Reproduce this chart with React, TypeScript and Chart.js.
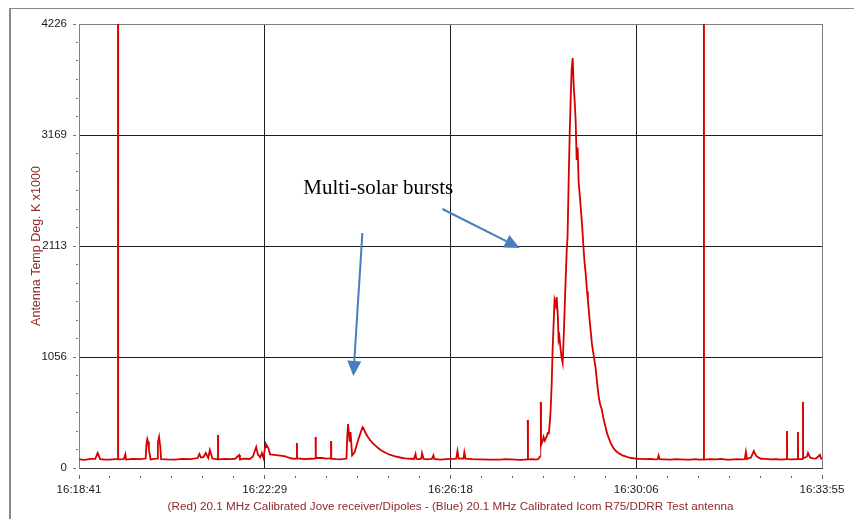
import { useEffect, useRef } from 'react';
import { Chart, registerables } from 'chart.js';

Chart.register(...registerables);

// seconds elapsed since 16:18:41 (axis runs to 16:33:55)
const X_MAX = 914;
const Y_MAX = 4226;
const X_TICK_LABELS = ['16:18:41', '16:22:29', '16:26:18', '16:30:06', '16:33:55'];
const Y_TICK_LABELS = ['0', '1056', '2113', '3169', '4226'];
const MINOR_PER_MAJOR = 6;

const TIME_S = [
  0, 7, 14, 20, 23, 26, 32, 38, 45, 48, 48, 48.2, 55, 57, 58, 66, 75, 82, 83, 84, 85, 86, 88, 92, 96, 97, 98.5, 100, 101,
  108, 118, 127, 137, 146, 148, 150, 153, 156, 159, 161, 164, 171, 171, 171.2, 180, 186, 192, 197, 198, 204, 210, 214,
  218, 220, 223, 225, 227, 229, 230, 232, 233, 235, 240, 245, 250, 254, 257, 260, 264, 268, 268, 268.3, 278, 284, 291,
  291, 291.3, 299, 304, 310, 310, 310.3, 316, 321, 326, 329, 330, 331, 333, 334, 336, 339, 342, 344, 347, 349, 350, 352,
  355, 358, 361, 365, 368, 371, 377, 383, 389, 395, 401, 408, 412, 414, 415, 418, 421, 422, 424, 428, 434, 436, 437,
  444, 452, 458, 464, 465.6, 467, 473, 474, 475.5, 484, 494, 506, 518, 525, 531, 537, 543, 552, 552, 552.3, 558, 562,
  565, 568, 568, 568.3, 570.5, 571.5, 573, 574, 575.5, 576.5, 578, 579, 580, 581.5, 582.6, 584, 585, 586.5, 587.6, 589,
  590, 591, 592.5, 593.7, 595, 596, 597.4, 598.7, 600, 601, 602.3, 603.6, 604.8, 606, 607.3, 608.5, 609.7, 611, 612.2,
  613.4, 614.7, 616, 617, 619, 620.8, 622, 623.3, 625, 626, 628, 629.5, 631, 633, 635.5, 637.5, 639.3, 641, 643, 645.5,
  648, 650, 652, 654, 656.6, 659, 661.5, 664, 666.4, 669, 672.6, 676, 679, 683, 687.4, 692, 697, 703, 708, 711.9, 713,
  714.4, 720, 728, 734, 740, 746, 752.6, 758, 763, 768.6, 768.6, 768.8, 777, 783.4, 790, 796, 802, 810, 816, 819, 820.4,
  821.6, 826.6, 830.2, 832, 834, 838.8, 845, 851, 858, 863, 870.9, 870.9, 871.1, 877, 884.4, 884.4, 884.6, 890.6, 890.6,
  890.8, 895.5, 896.8, 899.3, 903, 906.6, 911.5, 912.8, 914,
];

const TEMP_K = [
  82, 78, 86, 88, 143, 85, 80, 80, 84, 86, 5200, 82, 84, 130, 80, 86, 84, 90, 230, 276, 250, 180, 82, 86, 90, 240, 295,
  200, 85, 82, 80, 86, 84, 95, 133, 100, 104, 143, 95, 171, 90, 82, 314, 82, 86, 85, 88, 124, 82, 90, 86, 110, 200, 130,
  100, 143, 95, 200, 228, 200, 190, 130, 125, 120, 115, 110, 100, 95, 88, 90, 238, 92, 84, 88, 90, 295, 95, 96, 90, 92,
  257, 88, 84, 82, 86, 90, 300, 419, 250, 343, 120, 150, 230, 280, 350, 390, 380, 340, 300, 266, 240, 210, 190, 171,
  145, 124, 110, 100, 92, 88, 86, 133, 86, 84, 88, 140, 86, 82, 86, 120, 86, 80, 84, 86, 88, 162, 90, 90, 150, 88, 84,
  82, 80, 80, 84, 82, 80, 78, 82, 457, 82, 84, 80, 85, 120, 628, 219, 260, 295, 260, 280, 300, 333, 330, 420, 523, 800,
  1123, 1400, 1599, 1550, 1627, 1450, 1218, 1250, 1123, 1050, 999, 1200, 1504, 1800, 2075, 2200, 2713, 3169, 3503, 3788,
  3902, 3650, 3500, 3300, 2931, 3050, 2713, 2600, 2500, 2300, 2075, 1950, 1850, 1680, 1599, 1420, 1300, 1180, 1080, 950,
  800, 680, 610, 560, 460, 380, 320, 280, 240, 200, 175, 155, 140, 130, 118, 110, 100, 95, 92, 88, 86, 84, 86, 82, 84,
  120, 84, 82, 80, 84, 82, 80, 80, 84, 80, 82, 5200, 80, 84, 82, 86, 80, 80, 84, 82, 84, 152, 86, 100, 162, 130, 110, 88,
  86, 82, 84, 80, 84, 352, 84, 82, 84, 343, 84, 84, 628, 90, 110, 143, 100, 92, 90, 124, 90, 88,
];

const NOTE_TEXT = 'Multi-solar bursts';
const NOTE_AT = [276, 2608];
const ARROWS = [
  [348.6, 2237, 337.5, 876],
  [447.1, 2465, 542, 2094],
];

const notesPlugin = {
  id: 'notes',
  afterDatasetsDraw(chart: any) {
    const { ctx, scales } = chart;
    const xs = scales.x;
    const ys = scales.y;
    ctx.save();
    ctx.font = '21px "Liberation Serif"';
    ctx.fillStyle = '#000000';
    ctx.textBaseline = 'alphabetic';
    ctx.textAlign = 'left';
    ctx.fillText(NOTE_TEXT, xs.getPixelForValue(NOTE_AT[0]), ys.getPixelForValue(NOTE_AT[1]));
    ctx.strokeStyle = '#4a7dbb';
    ctx.fillStyle = '#4a7dbb';
    ctx.lineWidth = 2;
    ARROWS.forEach(([t1, v1, t2, v2]) => {
      const x1 = xs.getPixelForValue(t1);
      const y1 = ys.getPixelForValue(v1);
      const x2 = xs.getPixelForValue(t2);
      const y2 = ys.getPixelForValue(v2);
      const ang = Math.atan2(y2 - y1, x2 - x1);
      const hl = 15;
      const hw = 7;
      const bx = x2 - Math.cos(ang) * hl;
      const by = y2 - Math.sin(ang) * hl;
      ctx.beginPath();
      ctx.moveTo(x1, y1);
      ctx.lineTo(bx, by);
      ctx.stroke();
      ctx.beginPath();
      ctx.moveTo(x2, y2);
      ctx.lineTo(bx + Math.sin(ang) * hw, by - Math.cos(ang) * hw);
      ctx.lineTo(bx - Math.sin(ang) * hw, by + Math.cos(ang) * hw);
      ctx.closePath();
      ctx.fill();
    });
    ctx.restore();
  },
};

const buildTicks = (max: number) => {
  const n = (X_TICK_LABELS.length - 1) * MINOR_PER_MAJOR;
  const out: { value: number }[] = [];
  for (let i = 0; i <= n; i++) out.push({ value: (max * i) / n });
  return out;
};

export default function App() {
  const ref = useRef<HTMLCanvasElement | null>(null);
  useEffect(() => {
    document.documentElement.style.overflow = 'hidden';
    document.body.style.overflow = 'hidden';
    if (!ref.current) return;
    const last = (Y_TICK_LABELS.length - 1) * MINOR_PER_MAJOR;
    const gridColor = (ctx: any) => {
      const i = ctx.index;
      if (i % MINOR_PER_MAJOR !== 0) return 'rgba(0,0,0,0)';
      if (i === 0 || i === last) return '#7f7f7f';
      return '#1e1e1e';
    };
    const chart = new Chart(ref.current, {
      type: 'line',
      data: {
        datasets: [
          {
            data: TIME_S.map((t, i) => ({ x: t, y: TEMP_K[i] })),
            borderColor: '#d60000',
            borderWidth: 1.8,
            pointRadius: 0,
            tension: 0,
            fill: false,
            segment: {
              borderColor: (ctx: any) => (ctx.p0.parsed.x === ctx.p1.parsed.x ? '#c83a3a' : undefined),
              borderWidth: (ctx: any) => (ctx.p0.parsed.x === ctx.p1.parsed.x ? 1.2 : undefined),
            },
          },
        ],
      },
      options: {
        animation: false,
        responsive: false,
        layout: { padding: { top: 15, right: 40, left: 0, bottom: 0 } },
        plugins: { legend: { display: false }, tooltip: { enabled: false } },
        scales: {
          x: {
            type: 'linear',
            min: 0,
            max: X_MAX,
            afterBuildTicks: (s: any) => {
              s.ticks = buildTicks(X_MAX);
            },
            afterFit: (s: any) => {
              s.height = 51;
            },
            border: { color: '#3a3a3a', width: 1 },
            grid: {
              color: gridColor,
              lineWidth: 1,
              tickLength: 11,
              tickColor: '#666666',
              tickBorderDash: (ctx: any) => (ctx.index % MINOR_PER_MAJOR === 0 ? [0, 6, 5, 100] : [0, 7, 2, 100]),
            },
            ticks: {
              autoSkip: false,
              maxRotation: 0,
              padding: 4,
              color: '#1a1a1a',
              font: { family: '"Liberation Sans", Arial', size: 11.5 },
              callback: (_v: any, i: number) => (i % MINOR_PER_MAJOR === 0 ? X_TICK_LABELS[i / MINOR_PER_MAJOR] : ''),
            },
            title: {
              display: true,
              text: '(Red) 20.1 MHz Calibrated Jove receiver/Dipoles - (Blue) 20.1 MHz Calibrated Icom R75/DDRR Test antenna',
              color: '#8e2a2a',
              font: { family: '"Liberation Sans", Arial', size: 11.7 },
              padding: { top: 0, bottom: 5 },
            },
          },
          y: {
            type: 'linear',
            min: 0,
            max: Y_MAX,
            afterBuildTicks: (s: any) => {
              s.ticks = buildTicks(Y_MAX);
            },
            afterFit: (s: any) => {
              s.width = 68;
            },
            border: { color: '#7f7f7f', width: 1 },
            grid: {
              color: gridColor,
              lineWidth: 1,
              tickLength: 8,
              tickColor: '#777777',
              tickBorderDash: (ctx: any) => (ctx.index % MINOR_PER_MAJOR === 0 ? [0, 2, 3, 100] : [0, 5, 2, 100]),
            },
            ticks: {
              autoSkip: false,
              padding: 4,
              color: '#1a1a1a',
              font: { family: '"Liberation Sans", Arial', size: 11.5 },
              callback: (_v: any, i: number) => (i % MINOR_PER_MAJOR === 0 ? Y_TICK_LABELS[i / MINOR_PER_MAJOR] : ''),
            },
            title: {
              display: true,
              text: 'Antenna Temp Deg. K x1000',
              color: '#8e2a2a',
              font: { family: '"Liberation Sans", Arial', size: 12.5 },
              padding: { top: 18, bottom: 0 },
            },
          },
        },
      },
      plugins: [notesPlugin],
    } as any);
    return () => chart.destroy();
  }, []);

  return (
    <div
      style={{
        marginLeft: 1,
        marginTop: -1,
        borderLeft: '2px solid #8a8a8a',
        borderTop: '2px solid #8a8a8a',
        width: 851,
        height: 510,
      }}
    >
      <canvas ref={ref} width={851} height={510} style={{ display: 'block' }} />
    </div>
  );
}
